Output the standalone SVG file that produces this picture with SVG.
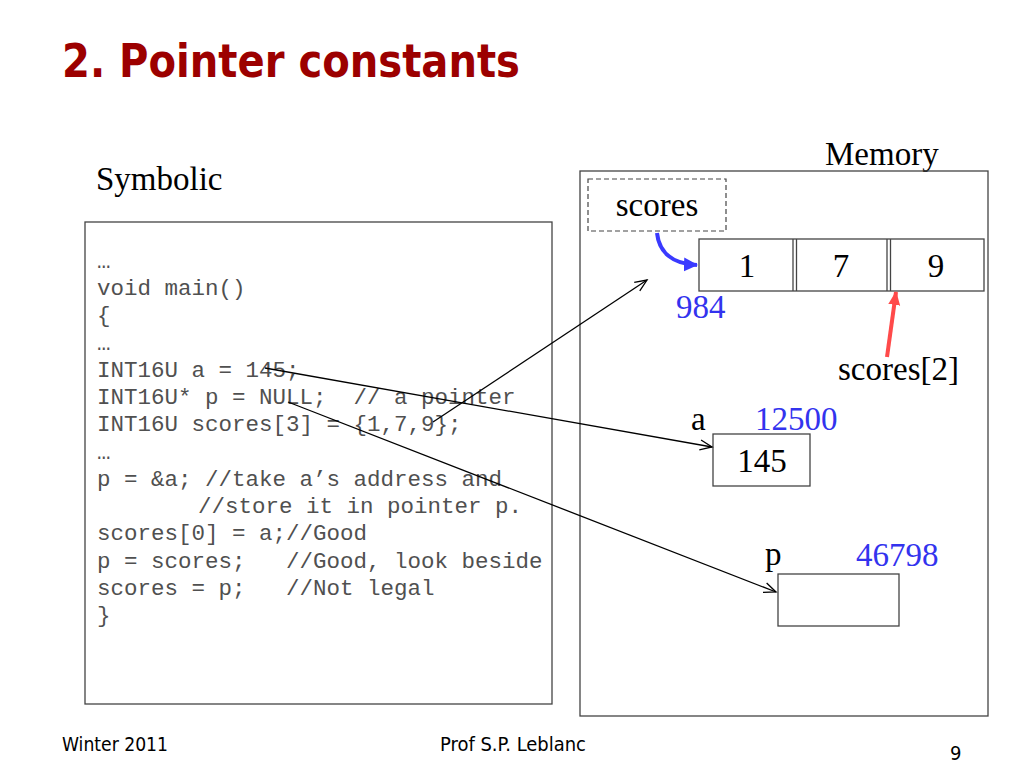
<svg xmlns="http://www.w3.org/2000/svg" width="1024" height="768" viewBox="0 0 1024 768">
<defs>
<style>
.title{font-family:"DejaVu Sans",Verdana,sans-serif;font-weight:bold;font-size:46px;fill:#9c0000}
.foot{font-family:"DejaVu Sans Condensed","DejaVu Sans",sans-serif;font-size:20px;fill:#000}
.code{font-family:"Liberation Mono","Courier New",monospace;font-size:22.5px;fill:#505050;white-space:pre}
.ser{font-family:"Liberation Serif","Times New Roman",serif;font-size:33px;fill:#000}
.blue{fill:#3333ee}
.box{fill:#fff;stroke:#444;stroke-width:1.3}
.conn{stroke:#000;stroke-width:1.3;fill:none;marker-end:url(#open)}
</style>
<marker id="open" markerUnits="userSpaceOnUse" markerWidth="16" markerHeight="14" refX="13" refY="6" orient="auto">
<path d="M1,1 L13,6 L1,11" fill="none" stroke="#000" stroke-width="1.3"/>
</marker>
<marker id="blueHead" markerUnits="userSpaceOnUse" markerWidth="16" markerHeight="16" refX="13" refY="7" orient="auto">
<path d="M0,0 L14,7 L0,14 Z" fill="#3a3aff"/>
</marker>
<marker id="redHead" markerUnits="userSpaceOnUse" markerWidth="16" markerHeight="16" refX="13" refY="6" orient="auto">
<path d="M0,0 L14,6 L0,12 Z" fill="#ff4a4a"/>
</marker>
</defs>
<rect width="1024" height="768" fill="#fff"/>
<text class="title" x="62" y="77" textLength="458" lengthAdjust="spacingAndGlyphs">2. Pointer constants</text>

<g id="symbolic">
<text class="ser" x="96" y="190">Symbolic</text>
<rect x="85" y="222" width="467" height="482" fill="#fff" stroke="#444" stroke-width="1.3"/>
<text class="code" x="97" y="268">…</text>
<text class="code" x="97" y="295">void main()</text>
<text class="code" x="97" y="322">{</text>
<text class="code" x="97" y="350">…</text>
<text class="code" x="97" y="377">INT16U a = 145;</text>
<text class="code" x="97" y="404" xml:space="preserve">INT16U* p = NULL;  // a pointer</text>
<text class="code" x="97" y="431">INT16U scores[3] = {1,7,9};</text>
<text class="code" x="97" y="459">…</text>
<text class="code" x="97" y="486">p = &amp;a; //take a’s address and</text>
<text class="code" x="198" y="513">//store it in pointer p.</text>
<text class="code" x="97" y="540">scores[0] = a;//Good</text>
<text class="code" x="97" y="568" xml:space="preserve">p = scores;   //Good, look beside</text>
<text class="code" x="97" y="595" xml:space="preserve">scores = p;   //Not legal</text>
<text class="code" x="97" y="622">}</text>
</g>

<g id="memory">
<text class="ser" x="825" y="165">Memory</text>
<rect x="580" y="171" width="408" height="545" fill="none" stroke="#444" stroke-width="1.3"/>
</g>

<g id="scores-label">
<rect x="588" y="179" width="138" height="52" fill="#fff" stroke="#444" stroke-width="1.2" stroke-dasharray="5,3"/>
<text class="ser" x="657" y="216" text-anchor="middle">scores</text>
</g>

<g id="array">
<rect class="box" x="699" y="239" width="285" height="52"/>
<line x1="793" y1="239" x2="793" y2="291" stroke="#444" stroke-width="1.3"/>
<line x1="796.5" y1="239" x2="796.5" y2="291" stroke="#444" stroke-width="1.3"/>
<line x1="887" y1="239" x2="887" y2="291" stroke="#444" stroke-width="1.3"/>
<line x1="890.5" y1="239" x2="890.5" y2="291" stroke="#444" stroke-width="1.3"/>
<text class="ser" x="747" y="277" text-anchor="middle">1</text>
<text class="ser" x="841" y="277" text-anchor="middle">7</text>
<text class="ser" x="936" y="277" text-anchor="middle">9</text>
<text class="ser blue" x="676" y="318">984</text>
</g>

<g id="scores2">
<text class="ser" x="838" y="380">scores[2]</text>
</g>

<g id="var-a">
<text class="ser" x="691" y="430">a</text>
<text class="ser blue" x="755" y="430">12500</text>
<rect class="box" x="713" y="434" width="97" height="52"/>
<text class="ser" x="762" y="472" text-anchor="middle">145</text>
</g>

<g id="var-p">
<text class="ser" x="765" y="565">p</text>
<text class="ser blue" x="856" y="566">46798</text>
<rect class="box" x="778" y="574" width="121" height="52"/>
</g>

<g id="connectors">
<path d="M657,233 C659,252 672,264 697,265" fill="none" stroke="#3a3aff" stroke-width="4" marker-end="url(#blueHead)"/>
<line x1="887" y1="357" x2="896" y2="292" stroke="#ff4a4a" stroke-width="4" marker-end="url(#redHead)"/>
<line class="conn" x1="265" y1="368" x2="712" y2="447"/>
<line class="conn" x1="288" y1="402" x2="776" y2="592"/>
<line class="conn" x1="433" y1="422" x2="647" y2="280"/>
</g>

<g id="footer">
<text class="foot" x="62" y="751" textLength="106" lengthAdjust="spacingAndGlyphs">Winter 2011</text>
<text class="foot" x="440" y="751" textLength="146" lengthAdjust="spacingAndGlyphs">Prof S.P. Leblanc</text>
<text class="foot" x="950" y="760">9</text>
</g>
</svg>
